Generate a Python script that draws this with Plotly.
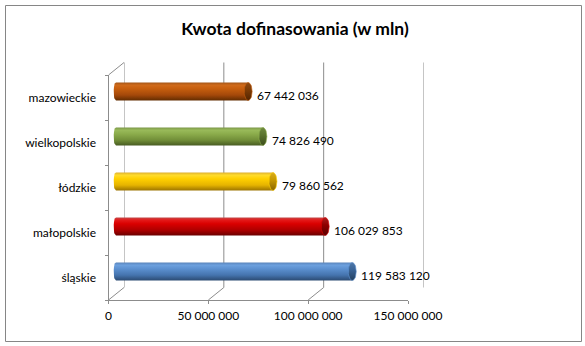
import numpy as np
import plotly.graph_objects as go

# Funding amounts per voivodeship (bottom to top)
regions = ["śląskie", "małopolskie", "łódzkie", "wielkopolskie", "mazowieckie"]
amounts = [119583120, 106029853, 79860562, 74826490, 67442036]
labels = ["119 583 120", "106 029 853", "79 860 562", "74 826 490", "67 442 036"]

tick_vals = [0, 50000000, 100000000, 150000000]
tick_text = ["0", "50 000 000", "100 000 000", "150 000 000"]
x_max = 150000000

# Cylinder shading (bottom -> top) and end-cap colours per bar
body_scales = [
    [[0, "#2B4A72"], [0.3, "#4574AE"], [0.65, "#5C90D0"], [0.85, "#6CA0DE"], [1, "#5A84BA"]],
    [[0, "#6A0000"], [0.3, "#AE0000"], [0.65, "#DA0000"], [0.85, "#E41818"], [1, "#C44848"]],
    [[0, "#9C7400"], [0.3, "#E6B400"], [0.65, "#FFD000"], [0.85, "#FFDC2C"], [1, "#DDB030"]],
    [[0, "#485C22"], [0.3, "#718E38"], [0.65, "#8CAD4C"], [0.85, "#99BA5A"], [1, "#7C9848"]],
    [[0, "#622C00"], [0.3, "#A4480A"], [0.65, "#C65E0E"], [0.85, "#D06A1A"], [1, "#A45618"]],
]
cap_scales = [
    [[0, "#24405F"], [0.6, "#3A6497"], [1, "#4F78A8"]],
    [[0, "#580000"], [0.6, "#900000"], [1, "#A82020"]],
    [[0, "#8A6600"], [0.6, "#C89A00"], [1, "#D8AC20"]],
    [[0, "#3C4C1C"], [0.6, "#5C7530"], [1, "#6E8840"]],
    [[0, "#522400"], [0.6, "#7E3C06"], [1, "#8E4A14"]],
]

W, H = 585, 346
FX0, FX1 = 108.5, 408.0      # front plane: pixel x of 0 and of x_max
FY_BOT, FY_TOP = 300.0, 75.0  # front plane: pixel y of floor and top
BACK_DX, BACK_DY = 15.5, 12.5  # depth offset of the back wall
BAR_DX, BAR_DY = 5.0, 6.0      # depth offset of the bar plane
GRID = "#8C8C8C"

units_per_px = x_max / (FX1 - FX0)
half_h = 0.2          # half bar thickness in category units
cap_rx = 4.0 * units_per_px
left_rx = 2.5 * units_per_px


def xdom(dx):
    return [(FX0 + dx) / W, (FX1 + dx) / W]


def ydom(dy):
    return [1 - (FY_BOT - dy) / H, 1 - (FY_TOP - dy) / H]


fig = go.Figure()

# front axes carry the category labels
fig.add_trace(go.Scatter(x=amounts, y=regions, mode="markers",
                         marker=dict(opacity=0), hoverinfo="skip",
                         xaxis="x", yaxis="y"))

# back wall plane (x2/y2)
fig.add_trace(go.Scatter(x=[0], y=[0], mode="markers", marker=dict(opacity=0),
                         hoverinfo="skip", xaxis="x2", yaxis="y2"))

# cylinder bars on x3/y3
for i, v in enumerate(amounts):
    t_left = np.linspace(np.pi / 2, 3 * np.pi / 2, 20)
    bx = [v, v] + list(left_rx + left_rx * np.cos(t_left)) + [v]
    by = [i - half_h, i + half_h] + list(i + half_h * np.sin(t_left)) + [i - half_h]
    fig.add_trace(go.Scatter(
        x=bx, y=by, mode="lines", fill="toself", line=dict(width=0),
        fillgradient=dict(type="vertical", colorscale=body_scales[i]),
        hoverinfo="skip", xaxis="x3", yaxis="y3"))
    t = np.linspace(0, 2 * np.pi, 40)
    fig.add_trace(go.Scatter(
        x=list(v + cap_rx * np.cos(t)), y=list(i + half_h * np.sin(t)),
        mode="lines", fill="toself", line=dict(width=0.6, color=body_scales[i][2][1]),
        fillgradient=dict(type="vertical", colorscale=cap_scales[i]),
        hoverinfo="skip", xaxis="x3", yaxis="y3"))

annotations = []
for i, (v, lab) in enumerate(zip(amounts, labels)):
    annotations.append(dict(x=v, y=i, xref="x3", yref="y3", text=lab,
                            showarrow=False, xanchor="left", yanchor="middle",
                            xshift=7, yshift=-4,
                            font=dict(family="Lato", size=12, color="black")))

shapes = []
for tv in tick_vals:
    # back wall gridline
    shapes.append(dict(type="line", xref="x2", yref="y2 domain",
                       x0=tv, x1=tv, y0=0, y1=1,
                       line=dict(color=GRID, width=1), layer="below"))
    # floor line joining the front tick to the back gridline
    shapes.append(dict(type="line", xref="x", xsizemode="pixel", xanchor=tv,
                       x0=0, x1=BACK_DX, yref="paper", ysizemode="pixel",
                       yanchor=1 - FY_BOT / H, y0=0, y1=BACK_DY,
                       line=dict(color=GRID, width=1), layer="below"))
# top edge of the left wall
shapes.append(dict(type="line", xref="x", xsizemode="pixel", xanchor=0,
                   x0=0, x1=BACK_DX, yref="paper", ysizemode="pixel",
                   yanchor=1 - FY_TOP / H, y0=0, y1=BACK_DY,
                   line=dict(color=GRID, width=1), layer="below"))
# chart border
shapes.append(dict(type="rect", xref="paper", yref="paper",
                   x0=5.5 / W, x1=581.5 / W, y0=1 - 341.5 / H, y1=1 - 5.5 / H,
                   line=dict(color="#868686", width=1), layer="below"))

axis_font = dict(family="Lato", size=12, color="black")
hidden = dict(showgrid=False, zeroline=False, showline=False,
              showticklabels=False, ticks="", automargin=False)

fig.update_layout(
    width=W, height=H,
    margin=dict(l=0, r=0, t=0, b=0, pad=0, autoexpand=False),
    paper_bgcolor="white", plot_bgcolor="rgba(0,0,0,0)",
    showlegend=False, hovermode=False,
    title=dict(text="<b>Kwota dofinasowania (w mln)</b>",
               x=295 / W, xanchor="center", y=1 - 29 / H, yanchor="middle",
               font=dict(family="Lato", size=17.5, color="black")),
    xaxis=dict(domain=xdom(0), range=[0, x_max], tickvals=tick_vals,
               ticktext=tick_text, showgrid=False, zeroline=False,
               showline=True, linecolor=GRID, linewidth=1,
               ticks="outside", ticklen=3, tickcolor=GRID, automargin=False,
               ticklabelstandoff=2, tickfont=axis_font, anchor="y"),
    yaxis=dict(domain=ydom(0), type="category", categoryorder="array",
               categoryarray=regions, range=[-0.5, 4.5],
               showgrid=False, zeroline=False, showline=True, linecolor=GRID,
               linewidth=1, ticks="outside", tickson="boundaries", ticklen=3,
               tickcolor=GRID, automargin=False,
               ticklabelstandoff=9, tickfont=axis_font, anchor="x"),
    xaxis2=dict(domain=xdom(BACK_DX), range=[0, x_max], anchor="y2", **hidden),
    yaxis2=dict(domain=ydom(BACK_DY), range=[-0.5, 4.5], anchor="x2", **hidden),
    xaxis3=dict(domain=xdom(BAR_DX), range=[0, x_max], anchor="y3", **hidden),
    yaxis3=dict(domain=ydom(BAR_DY), range=[-0.5, 4.5], anchor="x3", **hidden),
    annotations=annotations,
    shapes=shapes,
)

fig.write_html("out.html")
